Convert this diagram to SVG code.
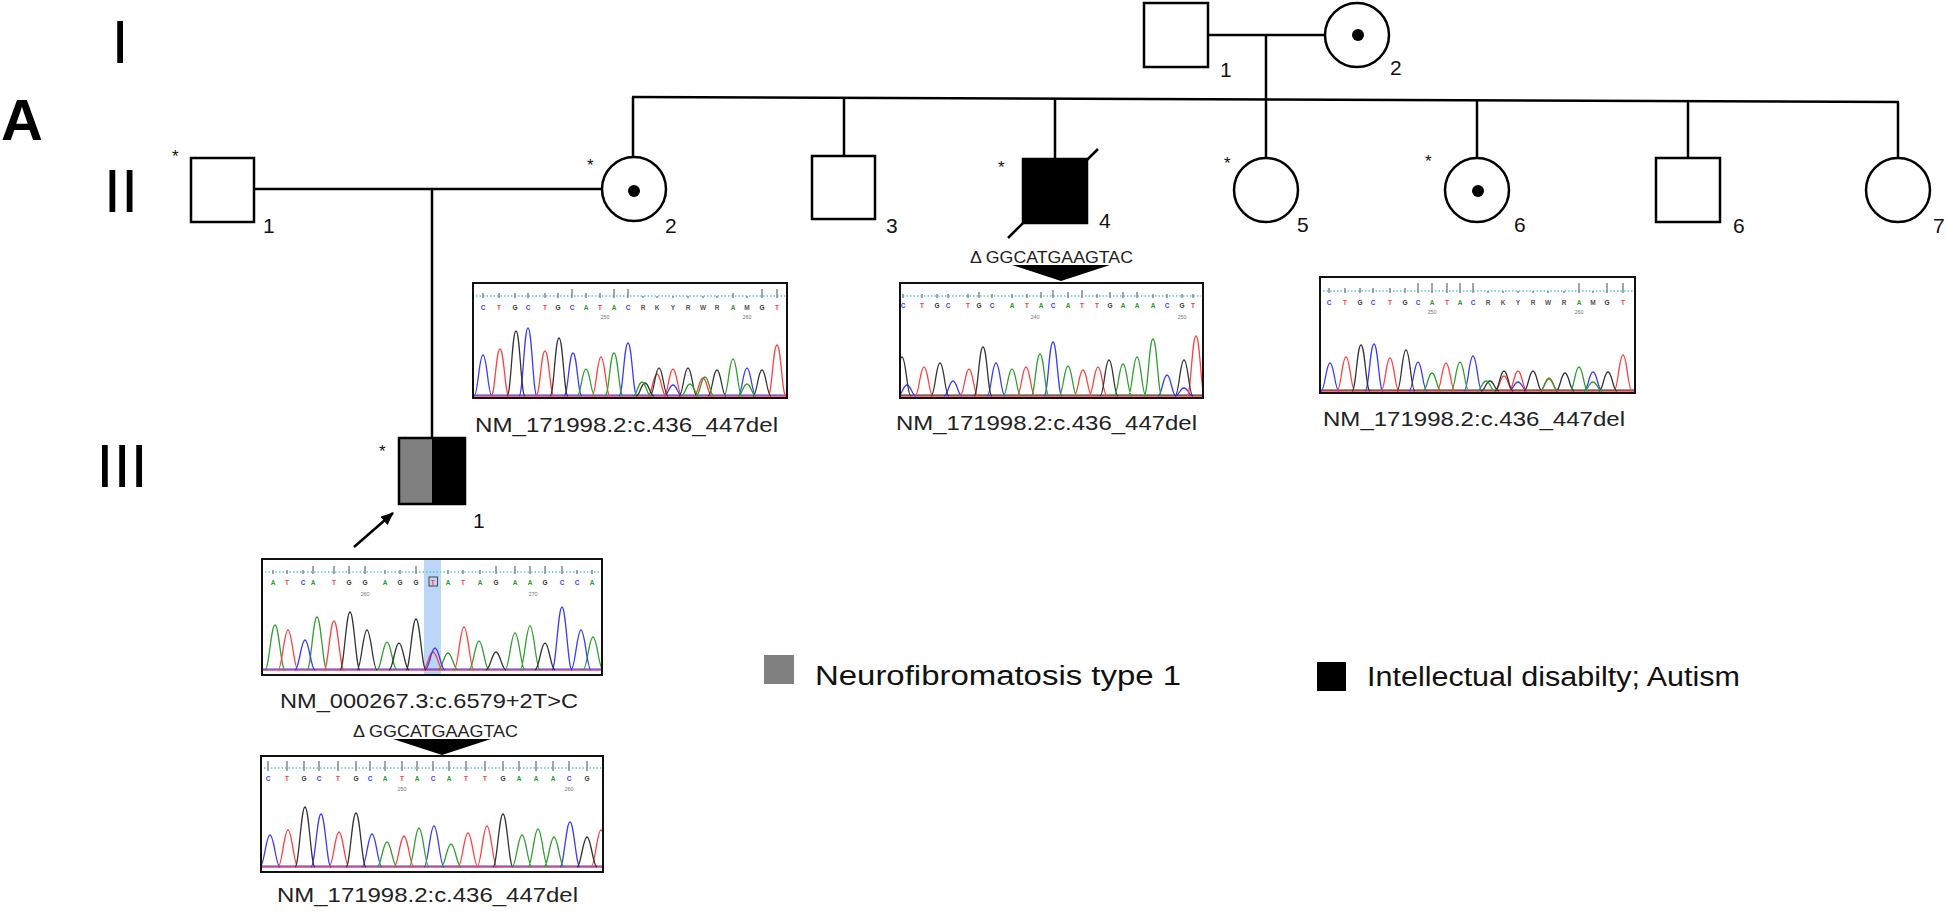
<svg xmlns="http://www.w3.org/2000/svg" width="1946" height="911" viewBox="0 0 1946 911">
<style>
.ln{stroke:#000;stroke-width:2.5;fill:none}
.sym{stroke:#000;stroke-width:2.5;fill:#fff}
.aff{stroke:#000;stroke-width:2.5;fill:#000}
.gen{font-family:"Liberation Sans",Arial,sans-serif;font-size:62px;fill:#000}
.num{font-family:"Liberation Sans",Arial,sans-serif;font-size:21px;fill:#111}
.ast{font-family:"Liberation Sans",Arial,sans-serif;font-size:17px;fill:#111}
.lbl{font-family:"Liberation Sans",Arial,sans-serif;font-size:21px;fill:#222}
.del{font-family:"Liberation Sans",Arial,sans-serif;font-size:16px;fill:#222}
.leg{font-family:"Liberation Sans",Arial,sans-serif;font-size:27px;fill:#111}
.box{fill:#fff;stroke:#111;stroke-width:2}
.frame{fill:none;stroke:#111;stroke-width:2}
.dot{stroke:#55cccc;stroke-width:1.5;stroke-dasharray:1.5 2;fill:none}
.tk{stroke:#888;stroke-width:1.5;fill:none}
.bs{font-family:"Liberation Sans",Arial,sans-serif;font-size:6.5px;font-weight:bold;text-anchor:middle}
.pos{font-family:"Liberation Sans",Arial,sans-serif;font-size:5.5px;fill:#777;text-anchor:middle}
.cC{fill:#3b3bff}.cT{fill:#ff3b3b}.cG{fill:#333}.cA{fill:#2a9a2a}.cN{fill:#555}
.pb{fill:none;stroke:#3a3aff;stroke-width:1.3}
.pr{fill:none;stroke:#ff4040;stroke-width:1.3}
.pk{fill:none;stroke:#333;stroke-width:1.3}
.pg{fill:none;stroke:#2fa02f;stroke-width:1.3}
</style>
<defs>
<marker id="ah" viewBox="0 0 12 10" refX="11" refY="5" markerWidth="13" markerHeight="11" markerUnits="userSpaceOnUse" orient="auto">
<path d="M0,0 L12,5 L0,10 Z" fill="#000"/>
</marker>
<clipPath id="c1"><rect x="474" y="284" width="312" height="113"/></clipPath>
<clipPath id="c2"><rect x="901" y="284" width="301" height="113"/></clipPath>
<clipPath id="c3"><rect x="1321" y="278" width="313" height="114"/></clipPath>
<clipPath id="c4"><rect x="263" y="560" width="338" height="114"/></clipPath>
<clipPath id="c5"><rect x="262" y="757" width="340" height="114"/></clipPath>
</defs>
<rect width="1946" height="911" fill="#fff"/>

<g id="labels">
<text x="1" y="140" font-family="Liberation Sans, Arial, sans-serif" font-size="58" font-weight="bold">A</text>
<text class="gen" x="120" y="63" text-anchor="middle">I</text>
<text class="gen" x="121" y="212" text-anchor="middle">II</text>
<text class="gen" x="122" y="487" text-anchor="middle">III</text>
</g>

<g id="connectors">
<line class="ln" x1="1208" y1="35" x2="1325" y2="35"/>
<line class="ln" x1="1266" y1="35" x2="1266" y2="99"/>
<line class="ln" x1="632" y1="97" x2="1899" y2="102"/>
<line class="ln" x1="633" y1="97" x2="633" y2="157"/>
<line class="ln" x1="844" y1="98" x2="844" y2="156"/>
<line class="ln" x1="1055" y1="98" x2="1055" y2="159"/>
<line class="ln" x1="1266" y1="99" x2="1266" y2="158"/>
<line class="ln" x1="1477" y1="100" x2="1477" y2="158"/>
<line class="ln" x1="1688" y1="101" x2="1688" y2="158"/>
<line class="ln" x1="1898" y1="102" x2="1898" y2="158"/>
<line class="ln" x1="254" y1="189" x2="602" y2="189"/>
<line class="ln" x1="432" y1="189" x2="432" y2="438"/>
<line x1="354" y1="547" x2="393" y2="513" stroke="#000" stroke-width="2.5" marker-end="url(#ah)"/>
</g>

<g id="I-1"><rect class="sym" x="1144" y="3" width="64" height="64"/><text class="num" x="1220" y="77">1</text></g>
<g id="I-2"><circle class="sym" cx="1357" cy="35" r="32"/><circle cx="1358" cy="35" r="6"/><text class="num" x="1390" y="75">2</text></g>

<g id="II-1"><rect class="sym" x="191" y="158" width="63" height="64"/><text class="ast" x="172" y="162">*</text><text class="num" x="263" y="233">1</text></g>
<g id="II-2"><circle class="sym" cx="634" cy="189" r="32"/><circle cx="634" cy="191" r="6"/><text class="ast" x="587" y="171">*</text><text class="num" x="665" y="233">2</text></g>
<g id="II-3"><rect class="sym" x="812" y="156" width="63" height="63"/><text class="num" x="886" y="233">3</text></g>
<g id="II-4"><rect class="aff" x="1023" y="159" width="64" height="64"/><line class="ln" x1="1008" y1="238" x2="1098" y2="149"/><text class="ast" x="998" y="173">*</text><text class="num" x="1099" y="228">4</text>
<text class="del" x="970" y="263" textLength="163" lengthAdjust="spacingAndGlyphs">Δ GGCATGAAGTAC</text>
<path d="M1012,265 L1110,265 L1061,281 Z" fill="#000"/></g>
<g id="II-5"><circle class="sym" cx="1266" cy="190" r="32"/><text class="ast" x="1224" y="169">*</text><text class="num" x="1297" y="232">5</text></g>
<g id="II-6"><circle class="sym" cx="1477" cy="190" r="32"/><circle cx="1478" cy="191" r="6"/><text class="ast" x="1425" y="167">*</text><text class="num" x="1514" y="232">6</text></g>
<g id="II-6b"><rect class="sym" x="1656" y="158" width="64" height="64"/><text class="num" x="1733" y="233">6</text></g>
<g id="II-7"><circle class="sym" cx="1898" cy="190" r="32"/><text class="num" x="1933" y="233">7</text></g>

<g id="III-1">
<rect x="399" y="438" width="33" height="66" fill="#808080"/>
<rect x="432" y="438" width="33" height="66" fill="#000"/>
<rect x="399" y="438" width="66" height="66" fill="none" stroke="#000" stroke-width="2.5"/>
<text class="ast" x="379" y="457">*</text>
<text class="num" x="473" y="528">1</text>
</g>

<g id="chrom-II-2">
<rect class="box" x="473" y="283" width="314" height="115"/>
<line class="dot" x1="476" y1="296" x2="785" y2="296"/>
<path class="tk" d="M483,293v5M499,293v5M515,293v5M528,293v5M545,293v5M558,293v5M572,289v9M586,293v5M600,293v5M614,289v9M628,289v9M643,296v2M657,296v2M673,296v2M688,296v2M703,296v2M717,296v2M733,293v5M747,296v2M762,289v9M777,289v9"/>
<text class="bs" y="310"><tspan class="cC" x="483">C</tspan><tspan class="cT" x="499">T</tspan><tspan class="cG" x="515">G</tspan><tspan class="cC" x="528">C</tspan><tspan class="cT" x="545">T</tspan><tspan class="cG" x="558">G</tspan><tspan class="cC" x="572">C</tspan><tspan class="cA" x="586">A</tspan><tspan class="cT" x="600">T</tspan><tspan class="cA" x="614">A</tspan><tspan class="cC" x="628">C</tspan><tspan class="cN" x="643">R</tspan><tspan class="cN" x="657">K</tspan><tspan class="cN" x="673">Y</tspan><tspan class="cN" x="688">R</tspan><tspan class="cN" x="703">W</tspan><tspan class="cN" x="717">R</tspan><tspan class="cA" x="733">A</tspan><tspan class="cN" x="747">M</tspan><tspan class="cG" x="762">G</tspan><tspan class="cT" x="777">T</tspan></text>
<text class="pos" x="605" y="319">250</text><text class="pos" x="747" y="319">260</text>
<g clip-path="url(#c1)">
<line x1="473" y1="396" x2="787" y2="396" stroke="#ff4040" stroke-width="1.3"/>
<line x1="473" y1="395" x2="787" y2="395" stroke="#3a3aff" stroke-width="1"/>
<path class="pb" d="M474,396c4,0 5,-41 9,-41s5,41 9,41M519,396c4,0 5,-68 9,-68s5,68 9,68M564,396c4,0 5,-43 9,-43s5,43 9,43M619,396c4,0 5,-53 9,-53s5,53 9,53M664,396c4,0 5,-11 9,-11s5,11 9,11M738,396c4,0 5,-28 9,-28s5,28 9,28"/>
<path class="pr" d="M491,396c4,0 5,-47 9,-47s5,47 9,47M536,396c4,0 5,-45 9,-45s5,45 9,45M592,396c4,0 5,-39 9,-39s5,39 9,39M648,396c4,0 5,-22 9,-22s5,22 9,22M664,396c4,0 5,-27 9,-27s5,27 9,27M694,396c4,0 5,-18 9,-18s5,18 9,18M768,396c4,0 5,-51 9,-51s5,51 9,51"/>
<path class="pk" d="M507,396c4,0 5,-65 9,-65s5,65 9,65M550,396c4,0 5,-58 9,-58s5,58 9,58M636,396c4,0 5,-13 9,-13s5,13 9,13M650,396c4,0 5,-28 9,-28s5,28 9,28M679,396c4,0 5,-28 9,-28s5,28 9,28M708,396c4,0 5,-26 9,-26s5,26 9,26M753,396c4,0 5,-26 9,-26s5,26 9,26"/>
<path class="pg" d="M577,396c4,0 5,-27 9,-27s5,27 9,27M605,396c4,0 5,-43 9,-43s5,43 9,43M633,396c4,0 5,-14 9,-14s5,14 9,14M681,396c4,0 5,-12 9,-12s5,12 9,12M696,396c4,0 5,-19 9,-19s5,19 9,19M724,396c4,0 5,-37 9,-37s5,37 9,37M738,396c4,0 5,-12 9,-12s5,12 9,12"/>
</g>
<rect class="frame" x="473" y="283" width="314" height="115"/>
<text class="lbl" x="475" y="432" textLength="303" lengthAdjust="spacingAndGlyphs">NM_171998.2:c.436_447del</text>
</g>

<g id="chrom-II-4">
<rect class="box" x="900" y="283" width="303" height="115"/>
<line class="dot" x1="903" y1="296" x2="1201" y2="296"/>
<path class="tk" d="M903,294v4M922,294v4M937,294v4M948,294v4M968,294v4M979,292v6M992,294v4M1012,294v4M1027,294v4M1041,292v6M1053,290v8M1068,292v6M1082,290v8M1097,294v4M1110,292v6M1123,292v6M1137,292v6M1153,294v4M1167,294v4M1182,294v4M1193,294v4"/>
<text class="bs" y="308"><tspan class="cC" x="903">C</tspan><tspan class="cT" x="922">T</tspan><tspan class="cG" x="937">G</tspan><tspan class="cC" x="948">C</tspan><tspan class="cT" x="968">T</tspan><tspan class="cG" x="979">G</tspan><tspan class="cC" x="992">C</tspan><tspan class="cA" x="1012">A</tspan><tspan class="cT" x="1027">T</tspan><tspan class="cA" x="1041">A</tspan><tspan class="cC" x="1053">C</tspan><tspan class="cA" x="1068">A</tspan><tspan class="cT" x="1082">T</tspan><tspan class="cT" x="1097">T</tspan><tspan class="cG" x="1110">G</tspan><tspan class="cA" x="1123">A</tspan><tspan class="cA" x="1137">A</tspan><tspan class="cA" x="1153">A</tspan><tspan class="cC" x="1167">C</tspan><tspan class="cG" x="1182">G</tspan><tspan class="cT" x="1193">T</tspan></text>
<text class="pos" x="1035" y="319">240</text><text class="pos" x="1182" y="319">250</text>
<g clip-path="url(#c2)">
<line x1="900" y1="396" x2="1203" y2="396" stroke="#ff4040" stroke-width="1.3"/>
<line x1="900" y1="395" x2="1203" y2="395" stroke="#333" stroke-width="1"/>
<path class="pb" d="M898,396c4,0 5,-11 9,-11s5,11 9,11M944,396c4,0 5,-15 9,-15s5,15 9,15M987,396c4,0 5,-33 9,-33s5,33 9,33M1044,396c4,0 5,-54 9,-54s5,54 9,54M1158,396c4,0 5,-21 9,-21s5,21 9,21M1175,396c4,0 5,-8 9,-8s5,8 9,8"/>
<path class="pr" d="M915,396c4,0 5,-29 9,-29s5,29 9,29M960,396c4,0 5,-27 9,-27s5,27 9,27M1017,396c4,0 5,-29 9,-29s5,29 9,29M1074,396c4,0 5,-26 9,-26s5,26 9,26M1089,396c4,0 5,-29 9,-29s5,29 9,29M1187,396c4,0 5,-60 9,-60s5,60 9,60"/>
<path class="pk" d="M893,396c4,0 5,-39 9,-39s5,39 9,39M931,396c4,0 5,-33 9,-33s5,33 9,33M974,396c4,0 5,-49 9,-49s5,49 9,49M1100,396c4,0 5,-36 9,-36s5,36 9,36M1175,396c4,0 5,-36 9,-36s5,36 9,36"/>
<path class="pg" d="M1003,396c4,0 5,-27 9,-27s5,27 9,27M1031,396c4,0 5,-42 9,-42s5,42 9,42M1059,396c4,0 5,-30 9,-30s5,30 9,30M1114,396c4,0 5,-32 9,-32s5,32 9,32M1128,396c4,0 5,-39 9,-39s5,39 9,39M1144,396c4,0 5,-57 9,-57s5,57 9,57"/>
</g>
<rect class="frame" x="900" y="283" width="303" height="115"/>
<text class="lbl" x="896" y="430" textLength="301" lengthAdjust="spacingAndGlyphs">NM_171998.2:c.436_447del</text>
</g>

<g id="chrom-II-6">
<rect class="box" x="1320" y="277" width="315" height="116"/>
<line class="dot" x1="1323" y1="291" x2="1633" y2="291"/>
<path class="tk" d="M1329,288v5M1345,288v5M1360,288v5M1373,288v5M1390,288v5M1405,288v5M1418,283v10M1432,283v10M1447,283v10M1460,283v10M1473,283v10M1488,291v2M1503,291v2M1518,291v2M1533,291v2M1548,291v2M1564,291v2M1579,283v10M1593,291v2M1607,283v10M1623,283v10"/>
<text class="bs" y="305"><tspan class="cC" x="1329">C</tspan><tspan class="cT" x="1345">T</tspan><tspan class="cG" x="1360">G</tspan><tspan class="cC" x="1373">C</tspan><tspan class="cT" x="1390">T</tspan><tspan class="cG" x="1405">G</tspan><tspan class="cC" x="1418">C</tspan><tspan class="cA" x="1432">A</tspan><tspan class="cT" x="1447">T</tspan><tspan class="cA" x="1460">A</tspan><tspan class="cC" x="1473">C</tspan><tspan class="cN" x="1488">R</tspan><tspan class="cN" x="1503">K</tspan><tspan class="cN" x="1518">Y</tspan><tspan class="cN" x="1533">R</tspan><tspan class="cN" x="1548">W</tspan><tspan class="cN" x="1564">R</tspan><tspan class="cA" x="1579">A</tspan><tspan class="cN" x="1593">M</tspan><tspan class="cG" x="1607">G</tspan><tspan class="cT" x="1623">T</tspan></text>
<text class="pos" x="1432" y="314">250</text><text class="pos" x="1579" y="314">260</text>
<g clip-path="url(#c3)">
<line x1="1320" y1="391" x2="1635" y2="391" stroke="#ff4040" stroke-width="1.3"/>
<line x1="1320" y1="390" x2="1635" y2="390" stroke="#333" stroke-width="1"/>
<path class="pb" d="M1321,391c4,0 5,-28 9,-28s5,28 9,28M1365,391c4,0 5,-47 9,-47s5,47 9,47M1409,391c4,0 5,-29 9,-29s5,29 9,29M1464,391c4,0 5,-35 9,-35s5,35 9,35M1584,391c4,0 5,-19 9,-19s5,19 9,19M1509,391c4,0 5,-9 9,-9s5,9 9,9"/>
<path class="pr" d="M1337,391c4,0 5,-34 9,-34s5,34 9,34M1381,391c4,0 5,-33 9,-33s5,33 9,33M1437,391c4,0 5,-28 9,-28s5,28 9,28M1495,391c4,0 5,-15 9,-15s5,15 9,15M1509,391c4,0 5,-20 9,-20s5,20 9,20M1540,391c4,0 5,-13 9,-13s5,13 9,13M1614,391c4,0 5,-36 9,-36s5,36 9,36"/>
<path class="pk" d="M1352,391c4,0 5,-46 9,-46s5,46 9,46M1397,391c4,0 5,-41 9,-41s5,41 9,41M1481,391c4,0 5,-10 9,-10s5,10 9,10M1495,391c4,0 5,-20 9,-20s5,20 9,20M1524,391c4,0 5,-20 9,-20s5,20 9,20M1556,391c4,0 5,-18 9,-18s5,18 9,18M1599,391c4,0 5,-19 9,-19s5,19 9,19"/>
<path class="pg" d="M1423,391c4,0 5,-18 9,-18s5,18 9,18M1451,391c4,0 5,-29 9,-29s5,29 9,29M1477,391c4,0 5,-10 9,-10s5,10 9,10M1540,391c4,0 5,-12 9,-12s5,12 9,12M1570,391c4,0 5,-24 9,-24s5,24 9,24M1584,391c4,0 5,-9 9,-9s5,9 9,9"/>
</g>
<rect class="frame" x="1320" y="277" width="315" height="116"/>
<text class="lbl" x="1323" y="426" textLength="302" lengthAdjust="spacingAndGlyphs">NM_171998.2:c.436_447del</text>
</g>

<g id="chrom-III-1-NF1">
<rect class="box" x="262" y="559" width="340" height="116"/>
<rect x="424" y="560" width="17" height="114" fill="#bcd6f7"/>
<line class="dot" x1="265" y1="572" x2="600" y2="572"/>
<path class="tk" d="M273,570v4M287,570v4M303,570v4M313,566v8M334,566v8M349,566v8M365,566v8M385,570v4M400,570v4M416,566v8M448,570v4M463,570v4M480,570v4M496,566v8M515,566v8M530,566v8M545,566v8M562,566v8M577,570v4M592,570v4"/>
<rect x="429" y="577" width="8.5" height="9" fill="none" stroke="#444" stroke-width="1"/>
<text class="bs" y="585"><tspan class="cA" x="273">A</tspan><tspan class="cT" x="287">T</tspan><tspan class="cC" x="303">C</tspan><tspan class="cA" x="313">A</tspan><tspan class="cT" x="334">T</tspan><tspan class="cG" x="349">G</tspan><tspan class="cG" x="365">G</tspan><tspan class="cA" x="385">A</tspan><tspan class="cG" x="400">G</tspan><tspan class="cG" x="416">G</tspan><tspan class="cT" x="433">T</tspan><tspan class="cA" x="448">A</tspan><tspan class="cT" x="463">T</tspan><tspan class="cA" x="480">A</tspan><tspan class="cG" x="496">G</tspan><tspan class="cA" x="515">A</tspan><tspan class="cA" x="530">A</tspan><tspan class="cG" x="545">G</tspan><tspan class="cC" x="562">C</tspan><tspan class="cC" x="577">C</tspan><tspan class="cA" x="592">A</tspan></text>
<text class="pos" x="365" y="596">260</text><text class="pos" x="533" y="596">270</text>
<g clip-path="url(#c4)">
<line x1="262" y1="670" x2="602" y2="670" stroke="#ff4040" stroke-width="1.3"/>
<line x1="262" y1="669" x2="602" y2="669" stroke="#3a3aff" stroke-width="1"/>
<path class="pg" d="M265,670c4,0 6,-45 10,-45s6,45 10,45M307,670c4,0 6,-53 10,-53s6,53 10,53M377,670c4,0 6,-28 10,-28s6,28 10,28M438,670c4,0 6,-17 10,-17s6,17 10,17M469,670c4,0 6,-29 10,-29s6,29 10,29M505,670c4,0 6,-37 10,-37s6,37 10,37M520,670c4,0 6,-44 10,-44s6,44 10,44M583,670c4,0 6,-33 10,-33s6,33 10,33"/>
<path class="pr" d="M278,670c4,0 6,-40 10,-40s6,40 10,40M324,670c4,0 6,-49 10,-49s6,49 10,49M423,670c4,0 6,-18 10,-18s6,18 10,18M454,670c4,0 6,-43 10,-43s6,43 10,43"/>
<path class="pb" d="M295,670c4,0 6,-30 10,-30s6,30 10,30M425,670c4,0 6,-22 10,-22s6,22 10,22M552,670c4,0 6,-63 10,-63s6,63 10,63M571,670c4,0 6,-40 10,-40s6,40 10,40"/>
<path class="pk" d="M340,670c4,0 6,-58 10,-58s6,58 10,58M357,670c4,0 6,-40 10,-40s6,40 10,40M389,670c4,0 6,-27 10,-27s6,27 10,27M406,670c4,0 6,-51 10,-51s6,51 10,51M486,670c4,0 6,-18 10,-18s6,18 10,18M535,670c4,0 6,-27 10,-27s6,27 10,27"/>
</g>
<rect class="frame" x="262" y="559" width="340" height="116"/>
<text class="lbl" x="280" y="708" textLength="298" lengthAdjust="spacingAndGlyphs">NM_000267.3:c.6579+2T&gt;C</text>
</g>

<g id="chrom-III-1-del">
<text class="del" x="353" y="737" textLength="165" lengthAdjust="spacingAndGlyphs">Δ GGCATGAAGTAC</text>
<path d="M393,739 L491,739 L442,755 Z" fill="#000"/>
<rect class="box" x="261" y="756" width="342" height="116"/>
<line class="dot" x1="264" y1="768" x2="601" y2="768"/>
<path class="tk" d="M268,761v10M287,761v10M304,761v10M319,761v10M338,761v10M356,761v10M370,761v10M385,761v10M402,761v10M417,761v10M433,761v10M449,761v10M466,761v10M485,761v10M503,761v10M519,761v10M536,761v10M553,761v10M569,761v10M587,761v10"/>
<text class="bs" y="781"><tspan class="cC" x="268">C</tspan><tspan class="cT" x="287">T</tspan><tspan class="cG" x="304">G</tspan><tspan class="cC" x="319">C</tspan><tspan class="cT" x="338">T</tspan><tspan class="cG" x="356">G</tspan><tspan class="cC" x="370">C</tspan><tspan class="cA" x="385">A</tspan><tspan class="cT" x="402">T</tspan><tspan class="cA" x="417">A</tspan><tspan class="cC" x="433">C</tspan><tspan class="cA" x="449">A</tspan><tspan class="cT" x="466">T</tspan><tspan class="cT" x="485">T</tspan><tspan class="cG" x="503">G</tspan><tspan class="cA" x="519">A</tspan><tspan class="cA" x="536">A</tspan><tspan class="cA" x="553">A</tspan><tspan class="cC" x="569">C</tspan><tspan class="cG" x="587">G</tspan></text>
<text class="pos" x="402" y="791">250</text><text class="pos" x="569" y="791">260</text>
<g clip-path="url(#c5)">
<line x1="261" y1="867" x2="603" y2="867" stroke="#ff4040" stroke-width="1.3"/>
<line x1="261" y1="866" x2="603" y2="866" stroke="#3a3aff" stroke-width="1"/>
<path class="pb" d="M260,867c4,0 6,-32 10,-32s6,32 10,32M311,867c4,0 6,-53 10,-53s6,53 10,53M362,867c4,0 6,-33 10,-33s6,33 10,33M424,867c4,0 6,-41 10,-41s6,41 10,41M560,867c4,0 6,-45 10,-45s6,45 10,45"/>
<path class="pr" d="M278,867c4,0 6,-37 10,-37s6,37 10,37M329,867c4,0 6,-35 10,-35s6,35 10,35M394,867c4,0 6,-31 10,-31s6,31 10,31M458,867c4,0 6,-34 10,-34s6,34 10,34M477,867c4,0 6,-41 10,-41s6,41 10,41M591,867c4,0 6,-37 10,-37s6,37 10,37"/>
<path class="pk" d="M295,867c4,0 6,-60 10,-60s6,60 10,60M346,867c4,0 6,-54 10,-54s6,54 10,54M493,867c4,0 6,-53 10,-53s6,53 10,53M577,867c4,0 6,-30 10,-30s6,30 10,30"/>
<path class="pg" d="M377,867c4,0 6,-25 10,-25s6,25 10,25M409,867c4,0 6,-39 10,-39s6,39 10,39M441,867c4,0 6,-23 10,-23s6,23 10,23M512,867c4,0 6,-32 10,-32s6,32 10,32M528,867c4,0 6,-38 10,-38s6,38 10,38M544,867c4,0 6,-30 10,-30s6,30 10,30"/>
</g>
<rect class="frame" x="261" y="756" width="342" height="116"/>
<text class="lbl" x="277" y="902" textLength="301" lengthAdjust="spacingAndGlyphs">NM_171998.2:c.436_447del</text>
</g>

<g id="legend">
<rect x="764" y="655" width="30" height="29" fill="#808080"/>
<text class="leg" x="815" y="685" textLength="366" lengthAdjust="spacingAndGlyphs">Neurofibromatosis  type 1</text>
<rect x="1317" y="662" width="29" height="29" fill="#000"/>
<text class="leg" x="1367" y="686" textLength="373" lengthAdjust="spacingAndGlyphs">Intellectual disabilty; Autism</text>
</g>
</svg>
